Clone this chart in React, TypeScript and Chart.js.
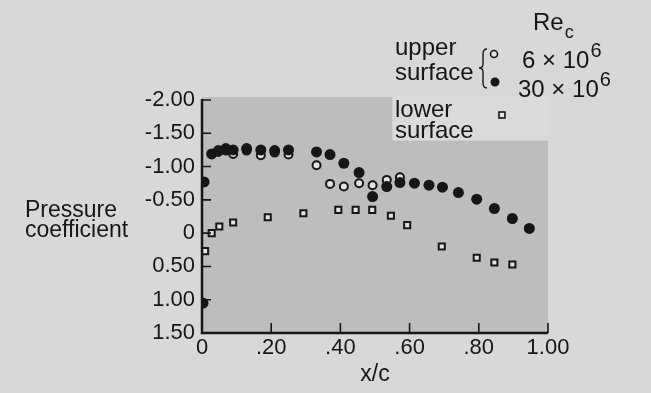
import React, { useEffect, useRef } from "react";
import { Chart, registerables } from "chart.js";

Chart.register(...registerables);

// ---- data ----
const xTickValues = [0, 0.2, 0.4, 0.6, 0.8, 1.0];
const xTickLabels = ["0", ".20", ".40", ".60", ".80", "1.00"];
const yTickValues = [-2, -1.5, -1, -0.5, 0, 0.5, 1, 1.5];
const yTickLabels = ["-2.00", "-1.50", "-1.00", "-0.50", "0", "0.50", "1.00", "1.50"];

// upper surface, Re_c = 30 x 10^6 (filled circles)
const upperHighX = [0.003, 0.006, 0.028, 0.047, 0.069, 0.09, 0.129, 0.17, 0.21, 0.25, 0.331, 0.37, 0.41, 0.454, 0.493, 0.534, 0.572, 0.614, 0.656, 0.695, 0.741, 0.794, 0.845, 0.897, 0.946];
const upperHighCp = [1.05, -0.77, -1.19, -1.24, -1.27, -1.25, -1.27, -1.25, -1.24, -1.25, -1.22, -1.18, -1.05, -0.91, -0.55, -0.70, -0.76, -0.75, -0.72, -0.69, -0.61, -0.51, -0.37, -0.22, -0.07];

// upper surface, Re_c = 6 x 10^6 (open circles)
const upperLowX = [0.047, 0.069, 0.09, 0.129, 0.17, 0.21, 0.25, 0.331, 0.37, 0.41, 0.454, 0.493, 0.534, 0.572];
const upperLowCp = [-1.22, -1.24, -1.19, -1.24, -1.17, -1.21, -1.18, -1.02, -0.74, -0.70, -0.75, -0.72, -0.80, -0.84];

// lower surface (open squares)
const lowerX = [0.009, 0.028, 0.05, 0.09, 0.19, 0.293, 0.394, 0.444, 0.492, 0.546, 0.593, 0.693, 0.794, 0.845, 0.897];
const lowerCp = [0.27, 0.0, -0.10, -0.16, -0.24, -0.30, -0.35, -0.35, -0.35, -0.26, -0.12, 0.20, 0.37, 0.44, 0.47];

const FONT = "'Liberation Sans', Arial, Helvetica, sans-serif";
const INK = "#161616";

const pts = (xs: number[], ys: number[]) => xs.map((x, i) => ({ x, y: ys[i] }));

const decorPlugin = {
  id: "decor",
  beforeDraw(chart: any) {
    const { ctx, chartArea, scales } = chart;
    const xs = scales.x;
    const ys = scales.y;
    ctx.save();
    ctx.fillStyle = "#d8d8d8";
    ctx.fillRect(0, 0, chart.width, chart.height);
    // plot panel
    ctx.fillStyle = "#bdbdbd";
    ctx.fillRect(chartArea.left, chartArea.top - 3, chartArea.right - chartArea.left, chartArea.bottom - chartArea.top + 3);
    // lighter notch behind legend
    const nx = xs.getPixelForValue(0.55);
    const ny = ys.getPixelForValue(-1.39);
    ctx.fillStyle = "#dadada";
    ctx.fillRect(nx, chartArea.top - 4, chartArea.right - nx + 1, ny - chartArea.top + 4);
    ctx.restore();
  },
  afterDatasetsDraw(chart: any) {
    const { ctx, chartArea, scales } = chart;
    const xs = scales.x;
    const ys = scales.y;
    ctx.save();
    ctx.strokeStyle = INK;
    ctx.lineWidth = 2.5;
    ctx.beginPath();
    ctx.moveTo(chartArea.left, chartArea.top - 1);
    ctx.lineTo(chartArea.left, chartArea.bottom);
    ctx.lineTo(chartArea.right, chartArea.bottom);
    ctx.stroke();
    ctx.lineWidth = 1.6;
    ctx.beginPath();
    yTickValues.forEach((v) => {
      const y = ys.getPixelForValue(v);
      ctx.moveTo(chartArea.left, y);
      ctx.lineTo(chartArea.left + 9, y);
    });
    xTickValues.forEach((v, i) => {
      if (i === 0) return;
      const x = xs.getPixelForValue(v);
      ctx.moveTo(x, chartArea.bottom);
      ctx.lineTo(x, chartArea.bottom - 10);
    });
    ctx.stroke();

    // y-axis title (horizontal)
    ctx.fillStyle = INK;
    ctx.font = `23px ${FONT}`;
    ctx.textAlign = "left";
    ctx.textBaseline = "alphabetic";
    ctx.fillText("Pressure", 25, 217);
    ctx.fillText("coefficient", 25, 237);

    // legend
    ctx.font = `24px ${FONT}`;
    ctx.fillText("Re", 533, 30);
    const rew = ctx.measureText("Re").width;
    ctx.font = `18px ${FONT}`;
    ctx.fillText("c", 533 + rew + 1, 38);

    ctx.font = `24px ${FONT}`;
    ctx.fillText("upper", 395, 55);
    ctx.fillText("surface", 395, 80);
    ctx.fillText("lower", 395, 117);
    ctx.fillText("surface", 395, 138);

    const sup = (base: string, x: number, y: number) => {
      ctx.font = `24px ${FONT}`;
      ctx.fillText(base, x, y);
      const w = ctx.measureText(base).width;
      ctx.font = `20px ${FONT}`;
      ctx.fillText("6", x + w + 1, y - 11);
    };
    sup("6 \u00d7 10", 522, 68);
    sup("30 \u00d7 10", 518, 97);

    // brace
    ctx.lineWidth = 1.4;
    ctx.beginPath();
    const bx = 483, top = 49, mid = 68, bot = 88;
    ctx.moveTo(bx + 4, top);
    ctx.quadraticCurveTo(bx, top, bx, top + 5);
    ctx.lineTo(bx, mid - 4);
    ctx.quadraticCurveTo(bx, mid, bx - 4, mid);
    ctx.quadraticCurveTo(bx, mid, bx, mid + 4);
    ctx.lineTo(bx, bot - 5);
    ctx.quadraticCurveTo(bx, bot, bx + 4, bot);
    ctx.stroke();

    // legend markers
    ctx.lineWidth = 1.6;
    ctx.fillStyle = "#e4e4e4";
    ctx.beginPath();
    ctx.arc(494, 54, 3.5, 0, Math.PI * 2);
    ctx.fill();
    ctx.stroke();
    ctx.fillStyle = INK;
    ctx.beginPath();
    ctx.arc(495, 82, 4.5, 0, Math.PI * 2);
    ctx.fill();
    ctx.fillStyle = "#e4e4e4";
    ctx.fillRect(499, 112, 6, 6);
    ctx.strokeRect(499, 112, 6, 6);
    ctx.restore();
  },
};

export default function App() {
  const ref = useRef<HTMLCanvasElement | null>(null);
  useEffect(() => {
    if (!ref.current) return;
    const chart = new Chart(ref.current, {
      type: "scatter",
      data: {
        datasets: [
          {
            label: "upper surface, 30×10^6",
            data: pts(upperHighX, upperHighCp),
            pointStyle: "circle",
            pointRadius: 5.5,
            pointBackgroundColor: INK,
            pointBorderColor: INK,
            pointBorderWidth: 0,
            order: 0,
          },
          {
            label: "upper surface, 6×10^6",
            data: pts(upperLowX, upperLowCp),
            pointStyle: "circle",
            pointRadius: 4,
            pointBackgroundColor: "#e2e2e2",
            pointBorderColor: INK,
            pointBorderWidth: 2,
            order: 1,
          },
          {
            label: "lower surface",
            data: pts(lowerX, lowerCp),
            pointStyle: "rect",
            pointRadius: 4.3,
            pointBackgroundColor: "#e2e2e2",
            pointBorderColor: INK,
            pointBorderWidth: 2,
            order: 2,
          },
        ],
      },
      options: {
        animation: false,
        responsive: true,
        maintainAspectRatio: false,
        layout: { padding: { top: 100, right: 103, bottom: 0, left: 0 } },
        plugins: { legend: { display: false }, tooltip: { enabled: false } },
        scales: {
          x: {
            type: "linear",
            min: 0,
            max: 1,
            afterBuildTicks: (s: any) => {
              s.ticks = xTickValues.map((value) => ({ value }));
            },
            afterFit: (s: any) => {
              s.height = 60;
            },
            ticks: {
              padding: 2,
              color: INK,
              font: { family: FONT, size: 22 },
              maxRotation: 0,
              autoSkip: false,
              callback: (v: any) => {
                const i = xTickValues.findIndex((t) => Math.abs(t - Number(v)) < 1e-6);
                return i >= 0 ? xTickLabels[i] : "";
              },
            },
            grid: { display: false, drawTicks: false },
            border: { display: false },
            title: {
              display: true,
              text: "x/c",
              color: INK,
              font: { family: FONT, size: 23 },
              padding: { top: 0, bottom: 5 },
            },
          },
          y: {
            type: "linear",
            reverse: true,
            min: -2,
            max: 1.5,
            afterBuildTicks: (s: any) => {
              s.ticks = yTickValues.map((value) => ({ value }));
            },
            afterFit: (s: any) => {
              s.width = 202;
            },
            ticks: {
              padding: 7,
              color: INK,
              font: { family: FONT, size: 22 },
              autoSkip: false,
              callback: (v: any) => {
                const i = yTickValues.findIndex((t) => Math.abs(t - Number(v)) < 1e-6);
                return i >= 0 ? yTickLabels[i] : "";
              },
            },
            grid: { display: false, drawTicks: false },
            border: { display: false },
          },
        },
      },
      plugins: [decorPlugin],
    });
    return () => chart.destroy();
  }, []);

  return (
    <div style={{ position: "fixed", left: 0, top: 0, width: 651, height: 393 }}>
      <canvas ref={ref} />
    </div>
  );
}
